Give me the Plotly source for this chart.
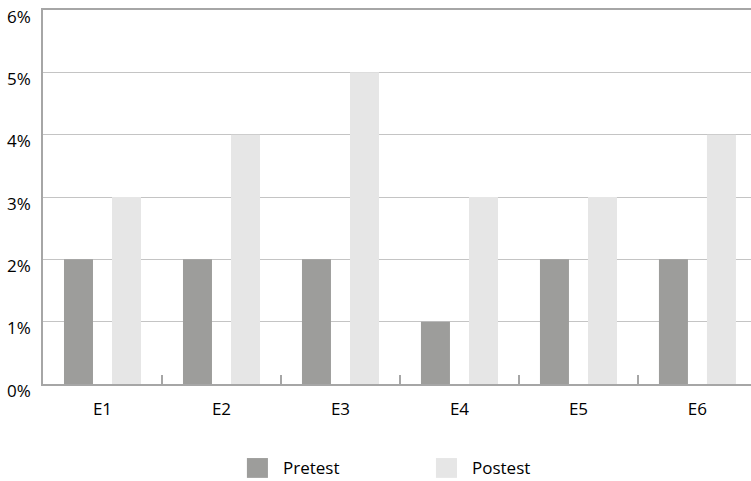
import plotly.graph_objects as go

categories = ["E1", "E2", "E3", "E4", "E5", "E6"]
pretest = [0.02, 0.02, 0.02, 0.01, 0.02, 0.02]
postest = [0.03, 0.04, 0.05, 0.03, 0.03, 0.04]
series_names = ["Pretest", "Postest"]
y_ticks = [0, 0.01, 0.02, 0.03, 0.04, 0.05, 0.06]
y_tick_labels = ["0%", "1%", "2%", "3%", "4%", "5%", "6%"]
colors = ["#9d9d9b", "#e6e6e6"]

fig = go.Figure()
fig.add_trace(go.Bar(x=categories, y=pretest, name=series_names[0],
                     marker=dict(color=colors[0], line=dict(width=0))))
fig.add_trace(go.Bar(x=categories, y=postest, name=series_names[1],
                     marker=dict(color=colors[1], line=dict(width=0))))

font = dict(family="Open Sans", size=17, color="#000000")

fig.update_layout(
    width=751, height=481,
    margin=dict(l=43, r=0, t=10, b=97),
    paper_bgcolor="white", plot_bgcolor="white",
    barmode="group", bargap=0.193, bargroupgap=0.396,
    showlegend=False,
    font=font,
    xaxis=dict(range=[-0.5, 5.45], showgrid=False, showline=True,
               linecolor="#a6a6a6", linewidth=1.5, mirror=True,
               ticks="inside", ticklen=9, tickwidth=1.5, tickcolor="#a6a6a6",
               tickson="boundaries", ticklabelstandoff=9,
               tickfont=font, zeroline=False, automargin=False),
    yaxis=dict(range=[0, 0.06], tickvals=y_ticks, showticklabels=False,
               showgrid=True, gridcolor="#c4c4c4", gridwidth=1.3,
               showline=True, linecolor="#a6a6a6", linewidth=1.5,
               ticks="", zeroline=False, automargin=False),
)

# y tick labels (sit slightly below their gridlines, as in the reference)
for v, lab in zip(y_ticks, y_tick_labels):
    fig.add_annotation(text=lab, xref="paper", yref="y", x=0, y=v,
                       xanchor="right", yanchor="middle", xshift=-10, yshift=-6,
                       showarrow=False, font=font)

# custom legend (large square swatches)
legend_x = [0.288, 0.555]
for name, col, lx in zip(series_names, colors, legend_x):
    fig.add_shape(type="rect", xref="paper", yref="paper",
                  x0=lx, x1=lx + 0.0297, y0=-0.251, y1=-0.198,
                  fillcolor=col, line=dict(width=0))
    fig.add_annotation(text=name, xref="paper", yref="paper",
                       x=lx + 0.048, y=-0.2245, xanchor="left", yanchor="middle",
                       showarrow=False, font=font)

fig.write_html("out.html",
               config={"displayModeBar": False},
               post_script="document.body.style.margin='0';document.body.style.overflow='hidden';")
